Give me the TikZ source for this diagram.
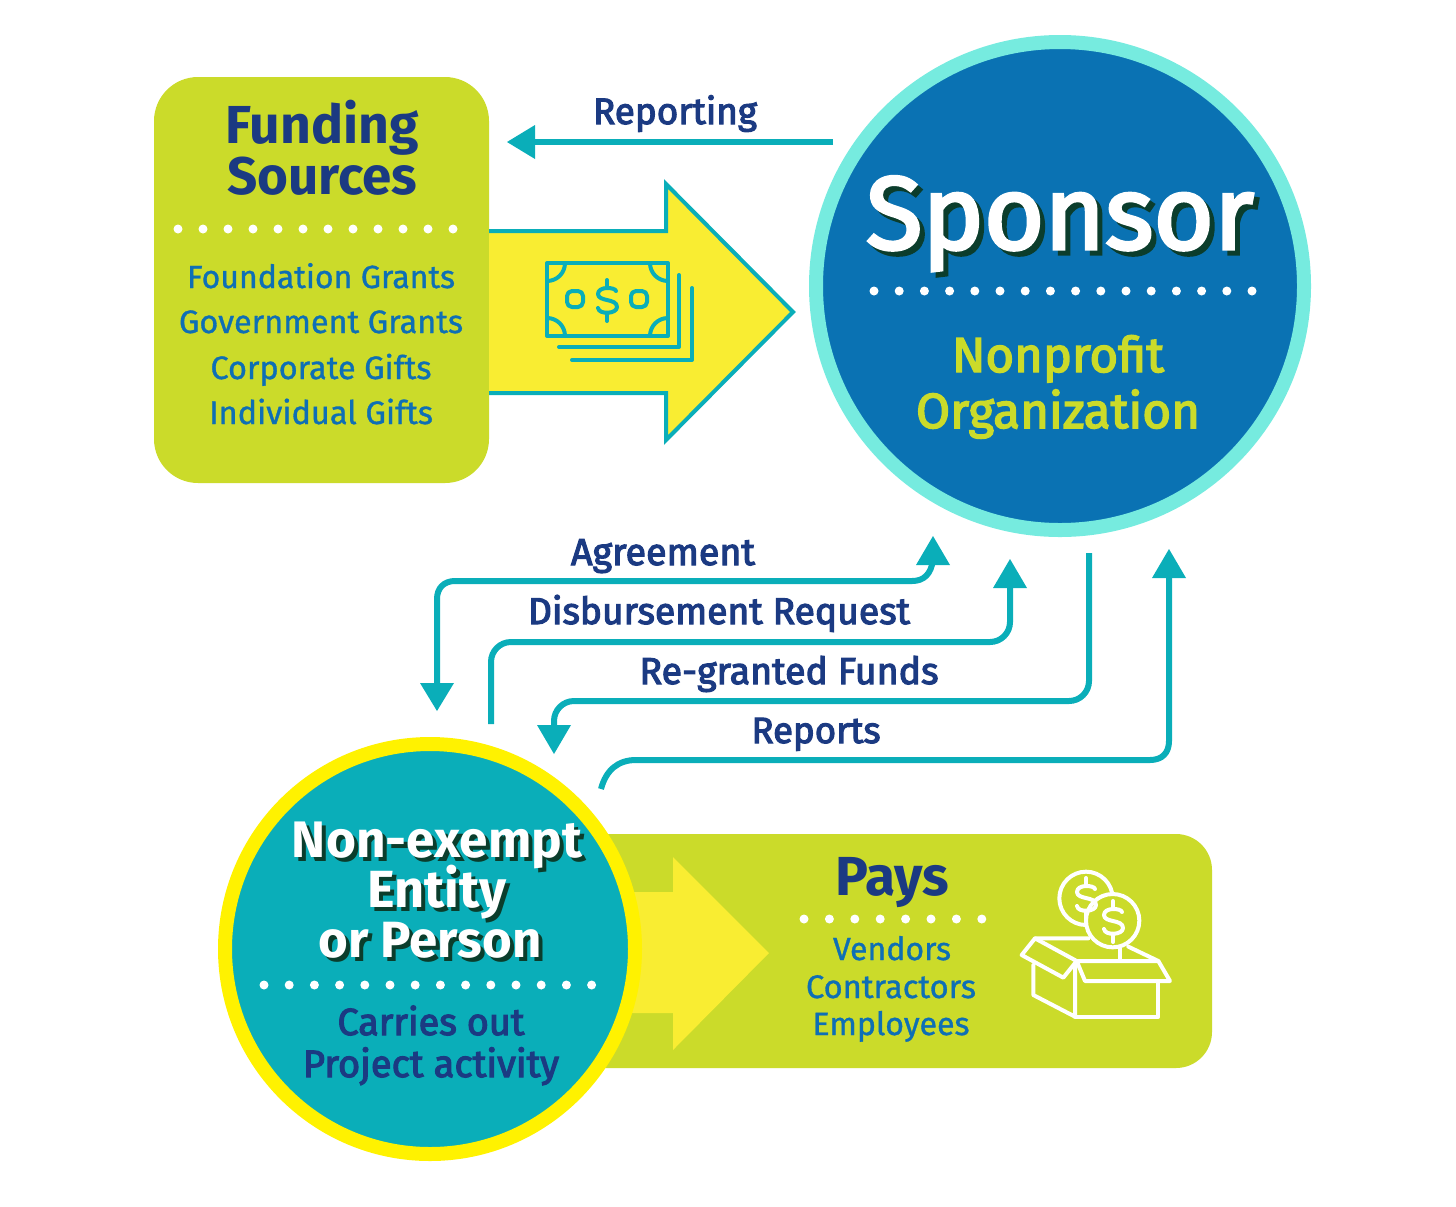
\documentclass[tikz,border=0pt]{standalone}
\usepackage{fontspec}
\usepackage{graphicx}
\setmainfont{Fira Sans}
\newfontfamily\semifam[FakeBold=3]{Fira Sans}
\newfontfamily\medfam[FakeBold=1]{Fira Sans}
\newcommand{\hvy}{\rmfamily\bfseries}
\definecolor{lime}{HTML}{CBDB2A}
\definecolor{sunny}{HTML}{F9ED32}
\definecolor{teal}{HTML}{0AAEB9}
\definecolor{aqua}{HTML}{76EBDF}
\definecolor{ocean}{HTML}{0A72B3}
\definecolor{navy}{HTML}{1B3A82}
\definecolor{ringy}{HTML}{FFF200}
\definecolor{listblue}{HTML}{0E6FB5}
\definecolor{shade}{HTML}{0B3D2C}
\newcommand{\fitw}[2]{\resizebox{\dimexpr#1pt/2\relax}{!}{#2}}
\newcommand{\shd}[3]{\rlap{\kern\dimexpr#3pt/2\relax\raisebox{\dimexpr-#3pt/2\relax}{\color{shade}\fitw{#1}{#2}}}{\color{white}\fitw{#1}{#2}}}
\tikzset{
  txt/.style={anchor=base,inner sep=0pt,font=\semifam},
  flow/.style={line width=3pt,draw=teal},
  head/.style={fill=teal,draw=none},
  ico/.style={draw=teal,line width=2pt,line cap=round,line join=round},
  wico/.style={draw=white,line width=2pt,line cap=round,line join=round},
  dotty/.style={fill=white,draw=none},
}
\newcommand{\dotrow}[4]{\foreach \k in {0,...,#4}{\fill[dotty] ({#1+\k*#3},#2) circle (4.5);}}
\newcommand{\dolsym}[3]{%
  \draw[#3] ({#1+9},{#2-9}) .. controls ({#1+8},{#2-13}) and ({#1-9},{#2-14}) .. ({#1-9},{#2-6}) .. controls ({#1-9},{#2+2}) and ({#1+10},{#2-2}) .. ({#1+10},{#2+7}) .. controls ({#1+10},{#2+14}) and ({#1-8},{#2+15}) .. ({#1-9},{#2+8});
  \draw[#3] (#1,{#2-20}) -- (#1,{#2-13}) (#1,{#2+14}) -- (#1,{#2+21});}
\begin{document}
\begin{tikzpicture}[x=0.5pt,y=-0.5pt]
\useasboundingbox (0,0) rectangle (1456,1206);
% funding
\fill[lime,rounded corners=22pt] (154,77) rectangle (489,483);
\node[txt,text=navy] (fund) at (322,143) {\fitw{193}{\hvy Funding}};
\node[txt,text=navy] (src) at (322,194) {\fitw{190}{\hvy Sources}};
\dotrow{178}{229}{25}{11}
\node[txt,text=listblue] (l1) at (321,288) {\fitw{268}{\medfam Foundation Grants}};
\node[txt,text=listblue] (l2) at (321,333) {\fitw{284}{\medfam Government Grants}};
\node[txt,text=listblue] (l3) at (321,379) {\fitw{221}{\medfam Corporate Gifts}};
\node[txt,text=listblue] (l4) at (321,424) {\fitw{224}{\medfam Individual Gifts}};
% big arrow
\filldraw[fill=sunny,draw=teal,line width=2pt,miter limit=10] (489,231) -- (666,231) -- (666,184) -- (793,312) -- (666,440) -- (666,393) -- (489,393);
% money icon
\draw[ico] (547,263) rectangle (668,336);
\draw[ico] (565,263) .. controls (565,273) and (557,281) .. (547,281)
  (650,263) .. controls (650,273) and (658,281) .. (668,281)
  (547,318) .. controls (557,318) and (565,326) .. (565,336)
  (668,318) .. controls (658,318) and (650,326) .. (650,336);
\draw[ico,rounded corners=2.5pt] (567,291) rectangle (583,307) (631,291) rectangle (647,307);
\dolsym{607}{300}{ico}
\draw[ico] (559,347) -- (679,347) -- (679,275);
\draw[ico] (572,360) -- (692,360) -- (692,288);
% sponsor
\filldraw[fill=ocean,draw=aqua,line width=7pt] (1060,286) circle (244);
\node[txt] (sp) at (1060,249) {\shd{388}{Sponsor}{5}};
\dotrow{874}{291}{25.2}{15}
\node[txt,text=lime] (np) at (1058,372) {\fitw{212}{Nonprofit}};
\node[txt,text=lime] (org) at (1058,428) {\fitw{284}{Organization}};
% pays
\fill[lime,rounded corners=18pt] (560,834) -- (1212,834) -- (1212,1068) -- (560,1068) -- cycle;
\fill[sunny] (600,892) -- (673,892) -- (673,857) -- (769,953) -- (673,1050) -- (673,1013) -- (600,1013) -- cycle;
% entity
\filldraw[fill=teal,draw=ringy,line width=7pt] (430,949) circle (205);
\node[txt] (ne) at (437,857) {\shd{290}{\hvy Non-exempt}{4}};
\node[txt] (en) at (437,907) {\shd{139}{\hvy Entity}{4}};
\node[txt] (op) at (430,957) {\shd{223}{\hvy or Person}{4}};
\dotrow{264}{985}{25.2}{13}
\node[txt,text=navy] (co) at (431,1035) {\fitw{187}{Carries out}};
\node[txt,text=navy] (pa) at (431,1077) {\fitw{256}{Project activity}};
\node[txt,text=navy] (pays) at (892,895) {\fitw{114}{\hvy Pays}};
\dotrow{804}{919}{25.4}{7}
\node[txt,text=listblue] (v) at (892,960) {\fitw{118}{\medfam Vendors}};
\node[txt,text=listblue] (c) at (891,998) {\fitw{170}{\medfam Contractors}};
\node[txt,text=listblue] (e) at (891,1035) {\fitw{157}{\medfam Employees}};
% box icon
\begin{scope}[shift={(1000,850)},x=0.5pt/3,y=-0.5pt/3]
\draw[wico] (258,145) circle (80);
\draw[wico,fill=lime] (338,212) circle (80);
\draw[wico] (360,295) -- (360,328);
\draw[wico] (65,315) -- (105,265) -- (230,333) -- (190,383) -- cycle;
\draw[wico] (105,265) -- (265,265) (385,290) -- (475,333);
\draw[wico] (230,333) -- (475,333) -- (510,393) -- (255,393) -- cycle;
\draw[wico] (100,345) -- (100,435) -- (225,500) -- (225,340);
\draw[wico] (225,500) -- (475,500) -- (475,393);
\end{scope}
\dolsym{1086}{898}{wico}
\dolsym{1113}{921}{wico}
% reporting
\coordinate (rs) at (833,142);
\coordinate (re) at (530,142);
\draw[flow] (rs) -- (re);
\fill[head] (507,142) -- (535,125) -- (535,159) -- cycle;
\node[txt,text=navy] (rep) at (675,124) {\fitw{164}{Reporting}};
% agreement
\draw[flow] (933,560) .. controls (931,574) and (924,581) .. (912,581) -- (455,581) .. controls (444,581) and (437,588) .. (437,599) -- (437,690);
\fill[head] (933,536) -- (916,565) -- (950,565) -- cycle;
\fill[head] (437,711) -- (420,683) -- (454,683) -- cycle;
\node[txt,text=navy] (ag) at (663,565) {\fitw{184}{Agreement}};
% disbursement
\draw[flow,rounded corners=10pt] (491,724) -- (491,642) -- (1010,642) -- (1010,580);
\fill[head] (1010,559) -- (993,588) -- (1027,588) -- cycle;
\node[txt,text=navy] (dr) at (719,624) {\fitw{382}{Disbursement Request}};
% regranted
\draw[flow,rounded corners=10pt] (1089,553) -- (1089,701) -- (554,701) -- (554,730);
\fill[head] (554,754) -- (537,725) -- (571,725) -- cycle;
\node[txt,text=navy] (rg) at (789,684) {\fitw{299}{Re-granted Funds}};
% reports
\draw[flow] (601,789) .. controls (606,770) and (618,760) .. (636,760) -- (1150,760) .. controls (1162,760) and (1169,753) .. (1169,741) -- (1169,570);
\fill[head] (1169,549) -- (1152,578) -- (1186,578) -- cycle;
\node[txt,text=navy] (rp) at (816,743) {\fitw{129}{Reports}};
\end{tikzpicture}
\end{document}
